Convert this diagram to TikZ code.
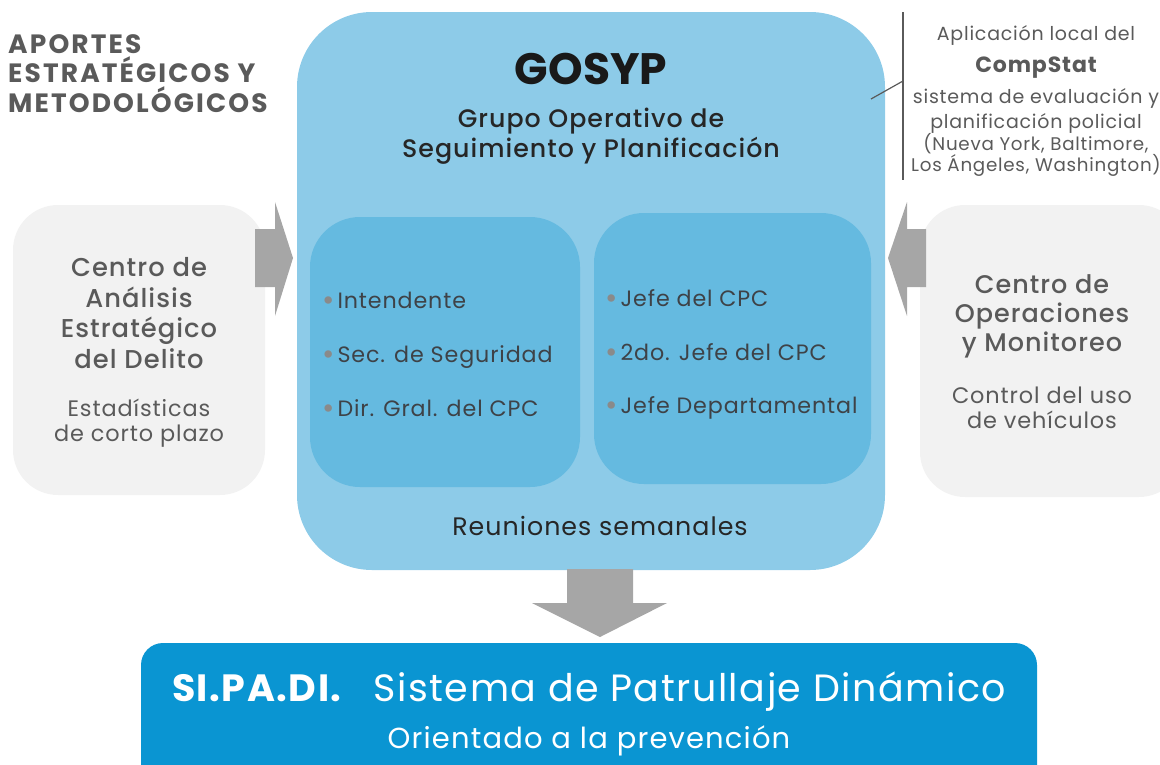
\documentclass[tikz,border=0pt]{standalone}
\usepackage{fontspec}
\setmainfont{Poppins}[LetterSpace=4]
\newfontfamily\medfont{Poppins Medium}[LetterSpace=4]
\usetikzlibrary{positioning}
\definecolor{skyblue}{HTML}{8DCBE8}
\definecolor{midblue}{HTML}{65BAE0}
\definecolor{deepblue}{HTML}{0A95D2}
\definecolor{panelgray}{HTML}{F2F2F2}
\definecolor{arrowgray}{HTML}{A6A6A6}
\definecolor{titlegray}{HTML}{5A5A5A}
\definecolor{inkgray}{HTML}{3E4247}
\definecolor{dotgray}{HTML}{8A8A8A}
\newcommand{\fsize}[2]{\fontsize{#1}{#2}\selectfont}
\tikzstyle{panel}=[draw=none,inner sep=0pt]
\tikzstyle{txt}=[inner sep=0pt,align=center,anchor=base]
\tikzstyle{item}=[inner sep=0pt,anchor=base west,text=inkgray,font=\fsize{22.2}{26}]
\newcommand{\newItem}[3]{\node[item](#1) at (#2){\raisebox{-2.5pt}{\textcolor{dotgray}{\fsize{30}{30}\textbullet}}\hspace{3pt}#3};}
\newcommand{\newBox}[6]{\node[panel,fill=#2,minimum width=#4,minimum height=#5,rounded corners=#6](#1) at (#3){};}

\begin{document}
\begin{tikzpicture}[x=1pt,y=-1pt]
    \clip (0,0) rectangle (1160,764);
    % boxes
    \newBox{gosyp}{skyblue}{591,291}{588pt}{558pt}{75pt}
    \newBox{leftgroup}{midblue}{445,352}{270pt}{270pt}{50pt}
    \newBox{rightgroup}{midblue}{732.5,348.5}{277pt}{271pt}{50pt}
    \newBox{analisis}{panelgray}{139,350}{252pt}{290pt}{45pt}
    \newBox{monitoreo}{panelgray}{1052,351}{264pt}{292pt}{45pt}
    \newBox{sipadi}{deepblue}{589,721.5}{896pt}{157pt}{22pt}
    % arrows
    \fill[arrowgray] (255,229) -- (275,229) -- (275,202) -- (293,258)
        -- (275,316) -- (275,287) -- (255,287) -- cycle;
    \fill[arrowgray] (926,229) -- (907,229) -- (907,202) -- (888,258)
        -- (907,316) -- (907,287) -- (926,287) -- cycle;
    \fill[arrowgray] (567,569) -- (633,569) -- (633,603) -- (667,603)
        -- (600,637) -- (532,603) -- (567,603) -- cycle;
    % title (base = last line)
    \node[txt,anchor=base west,align=left,text=titlegray,font=\fsize{26.5}{29.5}\bfseries\addfontfeatures{LetterSpace=8}]
        (aportes) at (8,112) {APORTES\\ESTRATÉGICOS Y\\METODOLÓGICOS};
    % GOSYP
    \node[txt,text=black!90,font=\fsize{44}{44}\bfseries\addfontfeatures{LetterSpace=0}](gtitle) at (591,84) {GOSYP};
    \node[txt,text=black!85,font=\fsize{25.3}{30}\medfont](gname) at (591,157)
        {Grupo Operativo de\\Seguimiento y Planificación};
    \newItem{i1}{322,308}{Intendente}
    \newItem{i2}{322,362}{Sec. de Seguridad}
    \newItem{i3}{322,416}{Dir. Gral. del CPC}
    \newItem{j1}{605,306}{Jefe del CPC}
    \newItem{j2}{605,360}{2do. Jefe del CPC}
    \newItem{j3}{605,413}{Jefe Departamental}
    \node[txt,text=black!85,font=\fsize{25.3}{26}](reuniones) at (600,535) {Reuniones semanales};
    % side panels
    \node[txt,text=titlegray,font=\fsize{25.8}{30.5}\medfont](aname) at (139,368)
        {Centro de\\Análisis\\Estratégico\\del Delito};
    \node[txt,text=titlegray,font=\fsize{22.4}{25}](adesc) at (139,441.5)
        {Estadísticas\\de corto plazo};
    \node[txt,text=titlegray,font=\fsize{25.5}{29.2}\medfont](mname) at (1042,351.7)
        {Centro de\\Operaciones\\y Monitoreo};
    \node[txt,text=titlegray,font=\fsize{22.4}{25}](mdesc) at (1042,428.3)
        {Control del uso\\de vehículos};
    % CompStat note
    \coordinate (barTop) at (903,12);
    \coordinate (barBot) at (903,180);
    \coordinate (barMid) at (903,81);
    \coordinate (gosypEdge) at (871,99);
    \draw[titlegray,line width=1.2pt] (barTop) -- (barBot);
    \draw[titlegray,line width=1.2pt] (gosypEdge) -- (barMid);
    \node[txt,text=titlegray,font=\fsize{19}{19}](aplic) at (1036,40) {Aplicación local del};
    \node[txt,text=titlegray,font=\fsize{22}{22}\bfseries](compstat) at (1036,72) {CompStat};
    \node[txt,text=titlegray,font=\fsize{19}{25}](sistema) at (1036,128)
        {sistema de evaluación y\\planificación policial};
    \node[txt,text=titlegray,font=\fsize{18.3}{21.5}](ciudades) at (1036,171.5)
        {(Nueva York, Baltimore,\\Los Ángeles, Washington)};
    % SIPADI
    \node[txt,text=white,font=\fsize{38}{38}](sname) at (589,701)
        {{\bfseries SI.PA.DI.}\hspace{32pt}Sistema de Patrullaje Dinámico};
    \node[txt,text=white,font=\fsize{29}{29}](sdesc) at (589,748) {Orientado a la prevención};
\end{tikzpicture}
\end{document}
